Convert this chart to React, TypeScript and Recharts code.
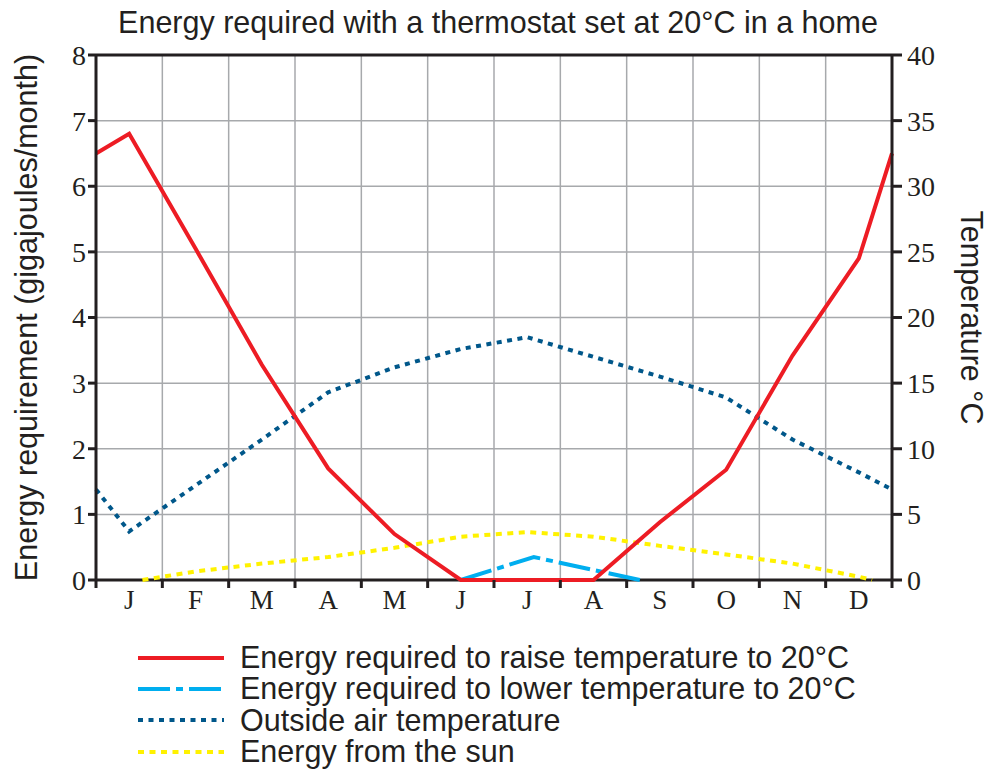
import { LineChart, Line, XAxis, YAxis, CartesianGrid, ReferenceLine, Label } from 'recharts';

const months = ['J', 'F', 'M', 'A', 'M', 'J', 'J', 'A', 'S', 'O', 'N', 'D'];
const monthTicks = [0.5, 1.5, 2.5, 3.5, 4.5, 5.5, 6.5, 7.5, 8.5, 9.5, 10.5, 11.5];
const gridTicks = [0, 1, 2, 3, 4, 5, 6, 7, 8, 9, 10, 11, 12];
const energyTicks = [0, 1, 2, 3, 4, 5, 6, 7, 8];
const tempTicks = [0, 5, 10, 15, 20, 25, 30, 35, 40];

// x is in months from the start of January
const raiseX = [0, 0.5, 1.5, 2.5, 3.5, 4.5, 5.5, 6.5, 7.5, 8.5, 9.5, 10.5, 11.5, 12];
const raiseY = [6.5, 6.8, 5.05, 3.28, 1.7, 0.7, 0, 0, 0, 0.88, 1.68, 3.42, 4.9, 6.5];

const lowerX = [5.5, 6.6, 8.2];
const lowerY = [0, 0.35, 0];

const tempX = [0, 0.5, 1.5, 2.5, 3.5, 4.5, 5.5, 6.5, 7.5, 8.5, 9.5, 10.5, 11.5, 12];
const tempY = [6.9, 3.7, 7.2, 10.7, 14.3, 16.2, 17.6, 18.5, 17.0, 15.5, 13.9, 10.7, 8.2, 6.9];

const sunX = [0.7, 1.5, 2.5, 3.5, 4.5, 5.5, 6.5, 7.5, 8.5, 9.5, 10.5, 11.5, 11.7];
const sunY = [0, 0.13, 0.25, 0.35, 0.49, 0.66, 0.73, 0.66, 0.52, 0.39, 0.25, 0.05, 0];

// merge all series into one table keyed by x
const buildTable = () => {
  const rows = new Map<number, any>();
  const add = (xs: number[], ys: number[], key: string) =>
    xs.forEach((x, i) => {
      const row = rows.get(x) || { x };
      row[key] = ys[i];
      rows.set(x, row);
    });
  add(raiseX, raiseY, 'raise');
  add(lowerX, lowerY, 'lower');
  add(tempX, tempY, 'temp');
  add(sunX, sunY, 'sun');
  return [...rows.values()].sort((a, b) => a.x - b.x);
};
const data = buildTable();

const INK = '#231f20';
const SANS = '"Liberation Sans", Arial, sans-serif';
const SERIF = '"Liberation Serif", "Times New Roman", serif';

const series = [
  { key: 'raise', axis: 'l', name: 'Energy required to raise temperature to 20°C', color: '#ed1c24', dash: undefined as string | undefined },
  { key: 'lower', axis: 'l', name: 'Energy required to lower temperature to 20°C', color: '#00aeef', dash: '32 6 7 6' },
  { key: 'temp', axis: 'r', name: 'Outside air temperature', color: '#00578a', dash: '5 5.5' },
  { key: 'sun', axis: 'l', name: 'Energy from the sun', color: '#fff200', dash: '6 5.5' },
];

const SideLabel = (props: any) => {
  const { viewBox, side, text } = props;
  const { x, y, height } = viewBox;
  const cx = side === 'left' ? x + 26 : x + 80;
  const cy = y + height / 2;
  return (
    <text
      x={cx}
      y={cy}
      transform={`rotate(${side === 'left' ? -90 : 90}, ${cx}, ${cy})`}
      textAnchor="middle"
      dominantBaseline="central"
      fontFamily={SANS}
      fontSize={30.5}
      fill={INK}
    >
      {text}
    </text>
  );
};

const App = () => {
  return (
    <div style={{ position: 'absolute', left: 0, top: 0, width: 990, height: 772, background: '#fff' }}>
      <div
        style={{
          position: 'absolute',
          left: 0,
          top: 5,
          width: 996,
          textAlign: 'center',
          fontFamily: SANS,
          fontSize: 30.5,
          color: INK,
        }}
      >
        Energy required with a thermostat set at 20°C in a home
      </div>
      <LineChart width={990} height={772} data={data} margin={{ top: 55, right: 0, left: 0, bottom: 144 }}>
        <CartesianGrid xAxisId="a" yAxisId="l" stroke="#a7a9ac" strokeWidth={1.5} />
        <XAxis
          xAxisId="a"
          type="number"
          dataKey="x"
          domain={[0, 12]}
          ticks={gridTicks}
          interval={0}
          tickFormatter={() => ''}
          tickSize={8}
          height={8}
          axisLine={false}
          tickLine={{ stroke: INK, strokeWidth: 3 }}
        />
        <XAxis
          xAxisId="b"
          type="number"
          dataKey="x"
          domain={[0, 12]}
          ticks={monthTicks}
          tickFormatter={(v: number) => months[Math.floor(v)]}
          axisLine={false}
          tickLine={false}
          tickSize={0}
          tickMargin={2}
          height={40}
          interval={0}
          tick={{ fill: INK, fontFamily: SERIF, fontSize: 27 }}
        />
        <YAxis
          yAxisId="l"
          width={96}
          domain={[0, 8]}
          ticks={energyTicks}
          interval={0}
          tickSize={8}
          tickMargin={2}
          axisLine={{ stroke: INK, strokeWidth: 3 }}
          tickLine={{ stroke: INK, strokeWidth: 3 }}
          tick={{ fill: INK, fontFamily: SERIF, fontSize: 28 }}
        >
          <Label content={<SideLabel side="left" text="Energy requirement (gigajoules/month)" />} />
        </YAxis>
        <YAxis
          yAxisId="r"
          orientation="right"
          width={98}
          domain={[0, 40]}
          ticks={tempTicks}
          interval={0}
          tickSize={10}
          tickMargin={5}
          axisLine={{ stroke: INK, strokeWidth: 3 }}
          tickLine={{ stroke: INK, strokeWidth: 3 }}
          tick={{ fill: INK, fontFamily: SERIF, fontSize: 28 }}
        >
          <Label content={<SideLabel side="right" text="Temperature °C" />} />
        </YAxis>
        <ReferenceLine xAxisId="a" yAxisId="l" y={8} stroke={INK} strokeWidth={3} />
        <ReferenceLine xAxisId="a" yAxisId="l" y={0} stroke={INK} strokeWidth={3} />
        {[series[3], series[2], series[1], series[0]].map((s) => (
          <Line
            key={s.key}
            xAxisId="a"
            yAxisId={s.axis}
            dataKey={s.key}
            type="linear"
            stroke={s.color}
            strokeWidth={4}
            strokeDasharray={s.dash}
            connectNulls
            dot={false}
            activeDot={false}
            isAnimationActive={false}
          />
        ))}
      </LineChart>
      <div style={{ position: 'absolute', left: 138, top: 642 }}>
        {series.map((s) => (
          <div key={s.name} style={{ display: 'flex', alignItems: 'center', height: 31.3 }}>
            <svg width={86} height={12} style={{ marginRight: 16 }}>
              <line x1={0} y1={6} x2={86} y2={6} stroke={s.color} strokeWidth={4} strokeDasharray={s.dash} />
            </svg>
            <span style={{ fontFamily: SANS, fontSize: 30.5, color: INK, whiteSpace: 'nowrap' }}>{s.name}</span>
          </div>
        ))}
      </div>
    </div>
  );
};

export default App;
